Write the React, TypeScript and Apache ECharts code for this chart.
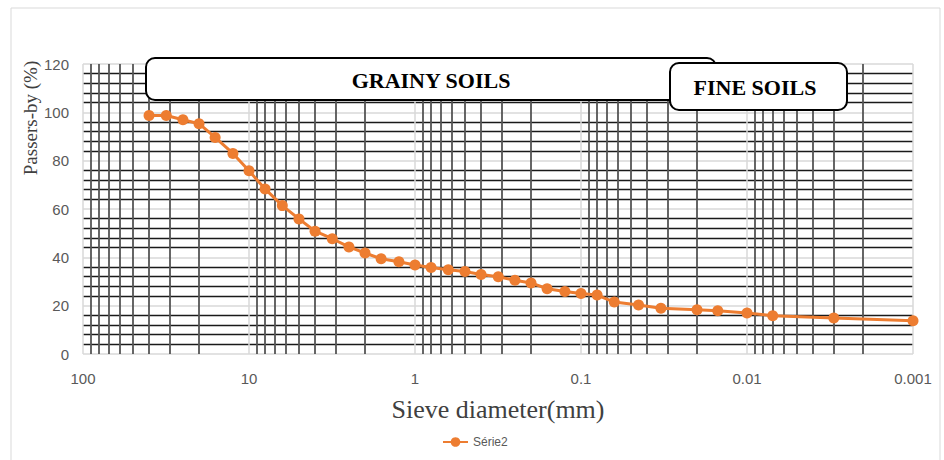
import React, { useEffect, useRef } from "react";
import * as echarts from "echarts";

// Sieve diameters (mm) and passing percentages
const sieveDiameters = [
  40, 31.5, 25, 20, 16, 12.5, 10, 8, 6.3, 5, 4, 3.15, 2.5, 2, 1.6, 1.25, 1, 0.8,
  0.63, 0.5, 0.4, 0.315, 0.25, 0.2, 0.16, 0.125, 0.1, 0.08, 0.063, 0.045, 0.033,
  0.02, 0.015, 0.01, 0.007, 0.003, 0.001,
];
const passingPercent = [
  98.7, 98.7, 96.9, 95.3, 89.6, 83.0, 75.8, 68.3, 61.4, 55.9, 50.8, 47.7, 44.3,
  41.8, 39.4, 38.2, 36.8, 35.8, 34.9, 34.1, 32.9, 32.0, 30.5, 29.4, 27.0, 25.9,
  25.0, 24.4, 21.5, 20.3, 18.9, 18.3, 17.9, 17.0, 15.8, 14.9, 13.8,
];
const seriesName = "Série2";
const xTitle = "Sieve diameter(mm)";
const yTitle = "Passers-by (%)";
const zoneLabels = ["GRAINY SOILS", "FINE SOILS"];

export default function App() {
  const ref = useRef<HTMLDivElement>(null);

  useEffect(() => {
    if (!ref.current) return;
    const chart = echarts.init(ref.current, null, { renderer: "svg" });
    const data = sieveDiameters.map((d, i) => [d, passingPercent[i]]);
    const labelFont = "'Liberation Sans', Arial, sans-serif";
    const serif = "'Liberation Serif', 'DejaVu Serif', serif";

    chart.setOption({
      animation: false,
      backgroundColor: "#ffffff",
      grid: { left: 83, right: 31, top: 64, bottom: 106, containLabel: false },
      legend: {
        data: [seriesName],
        left: 437,
        top: 431,
        itemWidth: 25,
        itemHeight: 12,
        itemGap: 5,
        textStyle: { color: "#595959", fontSize: 12, fontFamily: labelFont },
      },
      xAxis: {
        type: "log",
        logBase: 10,
        min: 0.001,
        max: 100,
        inverse: true,
        name: xTitle,
        nameLocation: "middle",
        nameGap: 42,
        nameTextStyle: { fontFamily: serif, fontSize: 26, color: "#404040" },
        axisLine: { show: false },
        axisTick: { show: false },
        axisLabel: {
          color: "#595959",
          fontSize: 15,
          fontFamily: labelFont,
          margin: 17,
          formatter: (v: number) => String(Number(v.toPrecision(6))),
        },
        splitLine: { show: true, lineStyle: { color: "#d9d9d9", width: 1.5 } },
        minorTick: { show: false, splitNumber: 9 },
        minorSplitLine: { show: true, lineStyle: { color: "#555555", width: 1.8 } },
      },
      yAxis: {
        type: "value",
        min: 0,
        max: 120,
        interval: 20,
        axisLine: { show: false },
        axisTick: { show: false },
        axisLabel: {
          color: "#595959",
          fontSize: 15,
          fontFamily: labelFont,
          margin: 14,
        },
        splitLine: { show: true, lineStyle: { color: "#d9d9d9", width: 1.5 } },
        minorTick: { show: false, splitNumber: 5 },
        minorSplitLine: { show: true, lineStyle: { color: "#1a1a1a", width: 1.4 } },
      },
      graphic: [
        {
          type: "rect",
          z: 0,
          silent: true,
          shape: { x: 11, y: 8, width: 929, height: 470 },
          style: { fill: "none", stroke: "#d9d9d9", lineWidth: 1 },
        },
        {
          type: "text",
          z: 100,
          x: 30,
          y: 118,
          rotation: Math.PI / 2,
          style: {
            text: yTitle,
            font: `19px ${serif}`,
            fill: "#404040",
            textAlign: "center",
            textVerticalAlign: "middle",
          },
        },
        {
          type: "rect",
          z: 100,
          shape: { x: 146, y: 58, width: 570, height: 42, r: 9 },
          style: { fill: "#ffffff", stroke: "#000000", lineWidth: 2 },
        },
        {
          type: "text",
          z: 101,
          x: 431,
          y: 80,
          style: {
            text: zoneLabels[0],
            font: `bold 22px ${serif}`,
            fill: "#000000",
            textAlign: "center",
            textVerticalAlign: "middle",
          },
        },
        {
          type: "rect",
          z: 102,
          shape: { x: 670, y: 63, width: 177, height: 47, r: 9 },
          style: { fill: "#ffffff", stroke: "#000000", lineWidth: 2 },
        },
        {
          type: "text",
          z: 103,
          x: 755,
          y: 87,
          style: {
            text: zoneLabels[1],
            font: `bold 22px ${serif}`,
            fill: "#000000",
            textAlign: "center",
            textVerticalAlign: "middle",
          },
        },
      ],
      series: [
        {
          name: seriesName,
          type: "line",
          data,
          z: 10,
          symbol: "circle",
          symbolSize: 11,
          itemStyle: { color: "#ED7D31" },
          lineStyle: { color: "#ED7D31", width: 3 },
        },
      ],
    });

    return () => chart.dispose();
  }, []);

  return (
    <div
      ref={ref}
      style={{ position: "fixed", left: 0, top: 0, width: 944, height: 460 }}
    />
  );
}
